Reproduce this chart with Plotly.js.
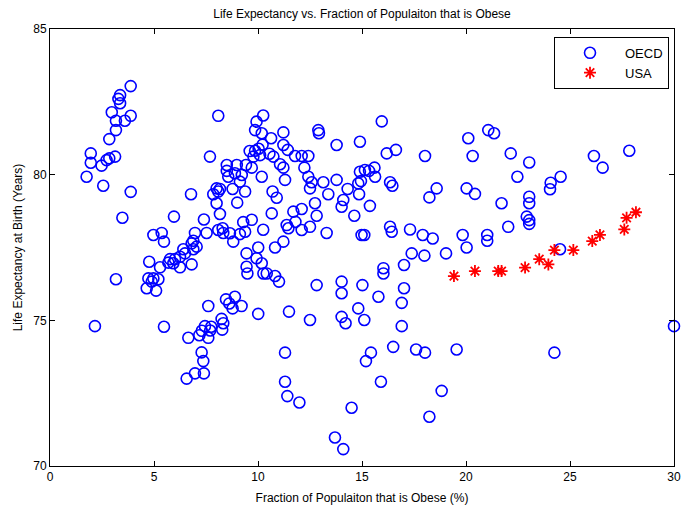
<!DOCTYPE html>
<html>
<head>
<meta charset="utf-8">
<script src="https://cdn.plot.ly/plotly-3.0.1.min.js"></script>
<style>html,body{margin:0;padding:0;background:#fff;}#chart{width:686px;height:507px;}</style>
</head>
<body>
<div id="chart"></div>
<script>
// OECD countries: obesity fraction (%) and life expectancy (years)
var oecdX = [3.88,3.37,3.29,3.37,2.97,3.88,3.17,3.6,3.17,2.85,1.96,1.96,2.48,2.72,2.85,3.13,1.76,2.56,3.88,3.48,2.16,3.17,
  8.09,9.93,9.86,10.25,10.18,10.22,9.6,9.86,10.03,9.78,10.55,10.74,10.1,
  7.69,8.5,8.98,9.42,9.7,8.5,8.89,9.22,8.57,9.13,8.01,8.17,7.85,8.09,8.78,9.38,6.78,8.01,9.0,10.18,5.96,7.4,8.17,9.29,9.7,
  11.22,10.63,12.9,12.93,13.78,14.9,15.95,11.22,11.43,11.78,12.1,12.42,11.06,11.22,11.3,12.23,12.42,12.58,12.5,13.14,13.78,13.38,10.7,10.9,12.74,14.1,14.02,14.31,14.82,14.95,14.86,14.9,15.14,15.34,15.6,15.63,15.38,11.7,12.1,10.66,12.82,14.63,11.8,
  8.3,7.53,6.97,4.97,5.37,5.48,6.89,6.81,7.05,6.89,6.41,6.49,6.25,5.77,5.69,6.01,5.93,6.25,6.81,4.77,5.29,4.73,4.97,5.21,4.89,4.65,5.1,8.09,8.33,8.65,8.81,9.13,9.38,10.25,9.45,10.01,9.93,10.18,9.45,9.49,10.26,7.61,8.46,8.62,8.89,9.21,8.78,10.01,5.48,8.25,8.33,8.28,7.45,7.75,7.3,7.7,
  7.18,7.61,6.65,7.29,7.37,6.57,6.97,7.4,
  11.38,11.46,12.1,12.5,13.3,14.98,15.11,11.22,10.82,10.42,10.82,11.01,12.82,14.02,14.02,15.02,15.79,11.49,12.5,14.02,14.21,14.82,15.11,
  11.3,11.3,11.41,11.99,16.03,16.03,17.02,17.02,16.91,16.91,16.5,17.6,18.03,19.55,15.43,15.19,15.91,18.83,18.24,14.5,13.7,14.1,17.39,18.0,19.04,20.03,
  16.19,16.63,18.03,20.11,20.32,18.59,18.24,20.03,20.43,16.35,16.46,17.31,17.92,18.4,19.84,16.35,16.43,
  21.07,21.35,22.15,23.04,22.47,24.07,24.04,24.55,26.15,26.57,27.85,21.71,23.04,23.04,22.92,23.04,23.04,22.03,21.02,21.02,24.52,24.25,30.0];
var oecdY = [83.04,82.73,82.6,82.45,82.14,82.02,81.85,81.85,81.53,81.22,80.73,80.41,80.31,80.5,80.56,80.62,79.93,79.62,79.41,78.52,74.8,76.41,
  82.02,81.82,81.53,82.03,81.42,81.03,80.81,80.82,80.89,80.62,80.72,80.62,80.67,
  80.62,80.33,80.33,80.33,80.24,80.13,80.05,79.99,79.93,79.76,79.53,79.51,79.33,79.42,79.51,79.42,79.33,79.02,79.04,79.93,78.56,78.46,78.65,78.37,78.45,
  81.45,81.25,81.53,81.42,81.02,81.13,81.83,81.02,80.85,80.64,80.64,80.64,80.36,80.24,79.82,80.24,79.93,79.74,79.53,79.74,79.82,79.33,79.42,79.21,79.02,79.13,78.9,79.51,79.7,79.78,79.33,80.1,80.16,80.13,80.24,79.93,78.93,78.73,78.82,78.67,78.59,78.59,78.38,
  78.16,78.0,78.0,77.93,78.0,77.7,77.73,77.64,77.53,77.44,77.44,77.3,77.18,77.1,76.98,77.1,76.96,76.82,76.92,77.01,76.82,76.44,76.44,76.41,76.33,76.1,76.02,78.1,78.0,77.99,77.7,77.96,78.04,78.11,77.3,77.5,77.13,76.96,76.84,76.61,76.61,75.49,75.72,75.58,75.81,75.49,75.41,75.22,74.78,75.05,74.9,74.68,74.8,74.78,74.64,74.65,
  74.49,74.4,74.4,73.9,73.6,73.0,73.18,73.18,
  78.27,78.16,78.1,78.21,78.0,77.93,77.93,77.7,77.5,76.61,76.52,76.33,76.21,76.33,75.93,76.21,75.81,75.3,75.01,75.12,74.9,75.41,75.01,
  73.89,72.89,72.4,72.18,76.79,76.61,76.9,76.1,75.6,74.8,74.09,74.0,73.89,74.0,73.89,73.6,72.89,72.58,71.69,72.0,70.98,70.58,77.3,77.22,77.3,77.5,
  80.73,80.85,80.64,81.25,80.64,79.53,79.22,79.53,79.34,79.74,79.62,78.12,77.93,77.81,77.93,78.21,78.04,
  81.53,81.42,80.73,80.42,79.93,79.72,79.5,79.93,80.64,80.24,80.82,79.02,79.24,79.02,78.56,78.44,78.31,78.21,77.93,77.73,77.44,73.89,74.8];

// USA over the years
var usaX = [19.42,20.43,21.55,21.71,22.84,23.52,23.96,24.25,25.16,26.07,26.44,27.61,27.72,28.17];
var usaY = [76.52,76.69,76.69,76.69,76.81,77.1,76.92,77.41,77.41,77.72,77.93,78.12,78.52,78.71];

var xTicks = [0,5,10,15,20,25,30];
var yTicks = [70,75,80,85];

var font = {family: 'Liberation Sans, Arial, Helvetica, sans-serif', size: 12, color: '#000'};
var legendFont = {family: 'Liberation Sans, Arial, Helvetica, sans-serif', size: 13, color: '#000'};

var traces = [
  {x: oecdX, y: oecdY, type: 'scatter', mode: 'markers', name: 'OECD', cliponaxis: false,
   marker: {symbol: 'circle-open', size: 11, color: '#0000ff', line: {width: 1.6, color: '#0000ff'}}},
  {x: usaX, y: usaY, type: 'scatter', mode: 'markers', name: 'USA', cliponaxis: false,
   marker: {symbol: 'asterisk-open', size: 10, color: '#ff0000', line: {width: 1.8, color: '#ff0000'}}}
];

var axisCommon = {
  showgrid: false, zeroline: false, showline: true, linecolor: '#000', linewidth: 1,
  mirror: 'ticks', ticks: 'inside', ticklen: 5, tickwidth: 1, tickcolor: '#000',
  tickfont: font, automargin: false
};

var layout = {
  width: 686, height: 507,
  margin: {l: 50, r: 12, t: 29, b: 41, pad: 0},
  paper_bgcolor: '#fff', plot_bgcolor: '#fff',
  font: font,
  showlegend: true,
  title: {text: 'Life Expectancy vs. Fraction of Populaiton that is Obese', font: font,
          x: 0.5, xref: 'paper', xanchor: 'center', y: 0.973, yref: 'container', yanchor: 'middle'},
  xaxis: Object.assign({}, axisCommon, {range: [0, 30], tickvals: xTicks, ticktext: xTicks.map(String),
    title: {text: 'Fraction of Populaiton that is Obese (%)', font: font, standoff: 10}}),
  yaxis: Object.assign({}, axisCommon, {range: [70, 85], tickvals: yTicks, ticktext: yTicks.map(String),
    title: {text: 'Life Expectancy at Birth (Years)', font: font, standoff: 8}}),
  legend: {x: 0.992, y: 0.982, xanchor: 'right', yanchor: 'top', bgcolor: '#fff',
           bordercolor: '#000', borderwidth: 1, font: legendFont, itemwidth: 60,
           tracegroupgap: 0}
};

Plotly.newPlot('chart', traces, layout, {displayModeBar: false, staticPlot: true});
</script>
</body>
</html>
